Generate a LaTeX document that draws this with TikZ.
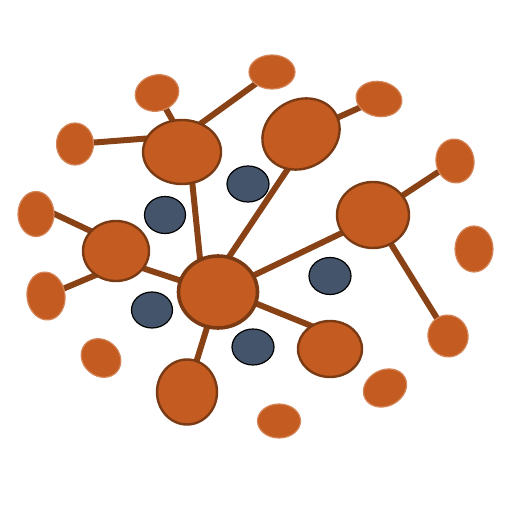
\documentclass[tikz,border=0pt]{standalone}
\usetikzlibrary{shapes.geometric,backgrounds}

\definecolor{rust}{RGB}{196,91,32}
\definecolor{bark}{RGB}{122,58,20}
\definecolor{link}{RGB}{136,66,22}
\definecolor{slate}{RGB}{68,84,106}

\tikzset{
    blob/.style 2 args={ellipse, inner sep=0pt, minimum width=#1*0.5pt, minimum height=#2*0.5pt},
    leaf/.style={fill=rust, draw=rust!75!white, line width=0.6pt},
    hub/.style={fill=rust, draw=bark, line width=1.2pt},
    core/.style={fill=rust, draw=bark, line width=1.8pt},
    hole/.style={fill=slate, draw=black, line width=0.6pt},
    bond/.style={draw=link, line width=3pt, shorten <=-3pt, shorten >=-3pt}
}

\begin{document}
\begin{tikzpicture}[x=0.5pt, y=-0.5pt]
    \useasboundingbox (0,0) rectangle (512,512);

    \node[core, blob={79}{72}] (A) at (218,292) {};
    \node[hub, blob={78}{64}] (B) at (182,152) {};
    \node[hub, blob={80}{68}, rotate=30] (C) at (301,134) {};
    \node[hub, blob={72}{66}] (D) at (373,215) {};
    \node[hub, blob={66}{60}] (E) at (116,251) {};
    \node[hub, blob={60}{65}] (F) at (187,392) {};
    \node[hub, blob={64}{56}] (G) at (330,349) {};

    \node[leaf, blob={44}{36}, rotate=15] (H) at (157,93) {};
    \node[leaf, blob={46}{34}] (I) at (272,72) {};
    \node[leaf, blob={37}{42}] (J) at (75,144) {};
    \node[leaf, blob={36}{45}] (K) at (36,214) {};
    \node[leaf, blob={38}{48}, rotate=8] (L) at (46,296) {};
    \node[leaf, blob={42}{36}, rotate=-40] (M) at (101,358) {};
    \node[leaf, blob={46}{35}, rotate=-10] (N) at (379,99) {};
    \node[leaf, blob={38}{44}, rotate=10] (O) at (455,161) {};
    \node[leaf, blob={38}{46}] (P) at (474,249) {};
    \node[leaf, blob={40}{42}, rotate=15] (Q) at (448,336) {};
    \node[leaf, blob={45}{36}, rotate=28] (R) at (385,388) {};
    \node[leaf, blob={43}{34}] (S) at (279,421) {};

    \node[hole, blob={41}{37}] (T) at (165,215) {};
    \node[hole, blob={42}{36}] (U) at (248,184) {};
    \node[hole, blob={41}{36}] (V) at (152,310) {};
    \node[hole, blob={42}{36}] (W) at (253,347) {};
    \node[hole, blob={42}{37}] (X) at (330,276) {};

    \begin{scope}[on background layer]
        \draw[bond] (H.center) -- (B.107);
        \draw[bond] (B.56) -- (I.center);
        \draw[bond] (J.center) -- (B.160);
        \draw[bond] (B.-72) -- (A.118);
        \draw[bond] (C.center) -- (N.center);
        \draw[bond] (C.-141) -- (A.72);
        \draw[bond] (D.center) -- (O.center);
        \draw[bond] (D.center) -- (Q.center);
        \draw[bond] (D.-150) -- (A.25);
        \draw[bond] (E.142) -- (K.east);
        \draw[bond] (E.-131) -- (L.center);
        \draw[bond] (E.-32) -- (A.163);
        \draw[bond] (A.center) -- (F.center);
        \draw[bond] (A.-17) -- (G.130);
    \end{scope}
\end{tikzpicture}
\end{document}
